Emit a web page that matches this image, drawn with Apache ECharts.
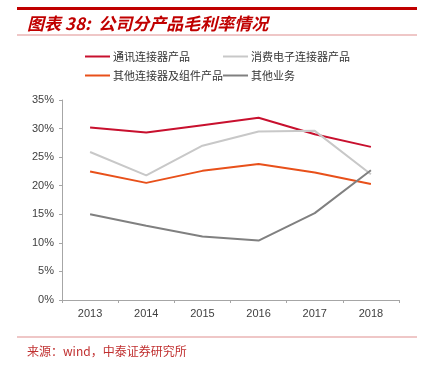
<!DOCTYPE html>
<html><head><meta charset="utf-8">
<script src="https://cdn.jsdelivr.net/npm/echarts@6/dist/echarts.min.js"></script>
<style>html,body{margin:0;padding:0;background:#fff}#c{width:423px;height:370px}</style>
</head><body><div id="c"></div>
<script>
const years = ['2013','2014','2015','2016','2017','2018'];
const seriesNames = ['通讯连接器产品','消费电子连接器产品','其他连接器及组件产品','其他业务'];
const telecom = [30.2, 29.3, 30.6, 31.9, 29.0, 26.8];
const consumer = [25.9, 21.8, 27.0, 29.5, 29.6, 22.0];
const otherConn = [22.5, 20.5, 22.6, 23.8, 22.3, 20.3];
const otherBiz = [15.0, 13.0, 11.1, 10.4, 15.2, 22.7];
const yTicks = [0,5,10,15,20,25,30,35];
const colors = ['#C8102E','#C8C8C8','#E8501A','#808080'];
const allData = [telecom, consumer, otherConn, otherBiz];

const chart = echarts.init(document.getElementById('c'), null, {renderer:'canvas'});
const legendPos = [[85,51],[223,51],[85,70],[223,70]];
const legends = seriesNames.map((n,i)=>({
  data:[n], left:legendPos[i][0], top:legendPos[i][1], itemWidth:25, itemHeight:12, itemGap:0, padding:0,
  textStyle:{fontSize:11, color:'#333', fontFamily:'"Noto Sans CJK SC", sans-serif', padding:[0,0,0,-2]},
  icon:'path://M0,5L25,5L25,7L0,7Z', selectedMode:false
}));
chart.setOption({
  animation:false,
  color:colors,
  legend:legends,
  grid:{left:62, right:24, top:100, bottom:70},
  xAxis:{type:'category', data:years, boundaryGap:true,
    axisLine:{lineStyle:{color:'#A6A6A6'}},
    axisTick:{show:true, length:3, lineStyle:{color:'#A6A6A6'}},
    axisLabel:{fontSize:11, color:'#404040', margin:8, fontFamily:'Arial, "Liberation Sans", sans-serif'}},
  yAxis:{type:'value', min:0, max:35, interval:5,
    axisLine:{show:true, lineStyle:{color:'#A6A6A6'}},
    axisTick:{show:true, length:3, lineStyle:{color:'#A6A6A6'}},
    splitLine:{show:false},
    axisLabel:{fontSize:11, color:'#404040', margin:8, formatter:v=>v+'%', fontFamily:'Arial, "Liberation Sans", sans-serif'}},
  series:seriesNames.map((n,i)=>({name:n, type:'line', data:allData[i], symbol:'none',
    lineStyle:{width:2, color:colors[i]}, itemStyle:{color:colors[i]}})),
  graphic:[
    {type:'rect', shape:{x:17,y:7,width:400,height:3}, style:{fill:'#C00000'}},
    {type:'text', x:27, y:23.5, style:{text:'图表 38:  公司分产品毛利率情况', fill:'#C00000',
      verticalAlign:'middle', font:'italic bold 17px "Noto Sans CJK SC", sans-serif'}},
    {type:'rect', shape:{x:17,y:34.5,width:400,height:1}, style:{fill:'#E09090'}},
    {type:'rect', shape:{x:17,y:336.5,width:400,height:1}, style:{fill:'#E09090'}},
    {type:'text', x:27, y:351, style:{text:'来源：wind，中泰证券研究所', fill:'#C03030',
      verticalAlign:'middle', font:'12px "Noto Sans CJK SC", monospace'}}
  ]
});
</script></body></html>
